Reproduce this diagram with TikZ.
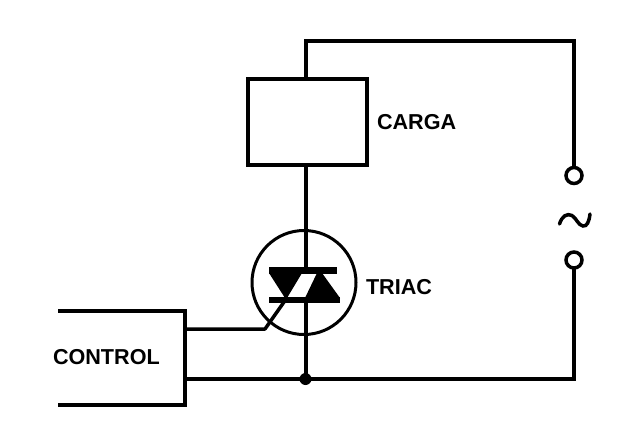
\documentclass[tikz,border=0pt]{standalone}
\usepackage{fontspec}
\setmainfont{Liberation Sans}
\begin{document}
\begin{tikzpicture}[x=1pt,y=-1pt,outer sep=0pt,
  wire/.style={line width=4pt,black},
  thinwire/.style={line width=3.5pt,black},
  lab/.style={inner sep=0pt,font=\fontsize{21.6}{24}\selectfont\bfseries},
  term/.style={circle,draw=black,line width=3.5pt,fill=white,minimum size=16pt,inner sep=0pt},
  dot/.style={circle,fill=black,minimum size=12pt,inner sep=0pt}]
\useasboundingbox (0,0) rectangle (627,437);
\fill[white] (0,0) rectangle (627,437);
\coordinate (topL) at (305.5,41);
\coordinate (topR) at (574,41);
\coordinate (botR) at (574,379);
\coordinate (ctlTL) at (58,311);
\coordinate (ctlTR) at (185,311);
\coordinate (ctlBR) at (185,405);
\coordinate (ctlBL) at (58,405);
\coordinate (gateA) at (185,329);
\coordinate (gateB) at (265,329);
\coordinate (gateC) at (284,302);
\node[term] (t1) at (574,175.5) {};
\node[term] (t2) at (574,260) {};
\node[dot] (j) at (305.5,379) {};
\node[draw=black,line width=4pt,minimum width=119pt,minimum height=86pt,inner sep=0pt,anchor=north west] (load) at (248,79) {};
\node[circle,draw=black,line width=3pt,minimum size=104pt,inner sep=0pt] (tri) at (304,282.5) {};
\draw[wire] (load.north -| topL) -- (topL) -- (topR) -- (t1.north);
\draw[wire] (load.south -| topL) -- (j.center);
\draw[wire] (t2.south) -- (botR) -- (j.center);
\draw[wire] (ctlTL) -- (ctlTR) -- (ctlBR) -- (ctlBL);
\draw[wire] (ctlBR |- j) -- (j.center);
\draw[thinwire,line join=round] (gateA) -- (gateB) -- (gateC);
% triac symbol
\fill[white] (269,273) rectangle (340,297);
\fill[black] (269,267) rectangle (337,273.5);
\fill[black] (269,297) rectangle (340,303);
\fill[black] (269,273) -- (302,273) -- (287,298) -- (285,298) -- cycle;
\fill[black] (305,298) -- (340,298) -- (322,273) -- (317,273) -- cycle;
\node[lab,anchor=west] (carga) at (377,122) {CARGA};
\node[lab,anchor=west] (triac) at (366,287) {TRIAC};
\node[lab,anchor=west] (control) at (53,357.5) {CONTROL};
\draw[line width=3.5pt,line cap=round] (559.5,224) .. controls (562,216) and (567,213) .. (572,215.5) .. controls (577,219) and (578,225) .. (583,226) .. controls (587,226.5) and (589,222) .. (590,214);
\end{tikzpicture}
\end{document}
